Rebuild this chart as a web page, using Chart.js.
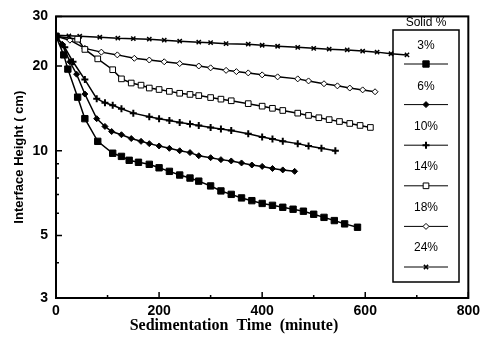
<!DOCTYPE html>
<html>
<head>
<meta charset="utf-8">
<script src="https://cdn.jsdelivr.net/npm/chart.js@4/dist/chart.umd.min.js"></script>
<style>
  body { margin: 0; background: #fff; }
</style>
</head>
<body>
<canvas id="grafico" width="485" height="340"></canvas>
<script>
// Valores (tempo em minutos, altura da interface em cm)
const rotulos = ['3%', '6%', '10%', '14%', '18%', '24%'];

const tempo3 = [0, 15, 23, 42, 56, 81, 110, 127, 142, 160, 181, 200, 220, 240, 260, 277, 300, 320, 340, 360, 380, 400, 420, 440, 460, 480, 500, 520, 540, 560, 585];
const altura3 = [25.5, 21.9, 19.5, 15.5, 13.0, 10.8, 9.8, 9.55, 9.25, 9.1, 8.95, 8.7, 8.45, 8.2, 8.0, 7.8, 7.5, 7.2, 7.0, 6.8, 6.65, 6.5, 6.4, 6.3, 6.2, 6.1, 5.95, 5.8, 5.65, 5.5, 5.35];

const tempo6 = [0, 12, 27, 40, 56, 79, 95, 108, 127, 146, 165, 181, 200, 220, 240, 260, 277, 300, 320, 340, 360, 380, 400, 420, 440, 463];
const altura6 = [25.5, 23.9, 20.7, 18.7, 15.9, 13.0, 12.2, 11.7, 11.4, 11.05, 10.8, 10.6, 10.4, 10.2, 10.0, 9.85, 9.6, 9.45, 9.3, 9.2, 9.05, 8.9, 8.8, 8.65, 8.55, 8.45];

const tempo10 = [0, 17, 33, 56, 79, 95, 110, 127, 150, 181, 200, 220, 240, 260, 277, 300, 320, 340, 373, 400, 420, 440, 469, 490, 515, 542];
const altura10 = [25.5, 23.3, 20.7, 17.9, 15.3, 14.8, 14.5, 14.1, 13.6, 13.2, 13.0, 12.8, 12.6, 12.45, 12.3, 12.1, 11.95, 11.8, 11.5, 11.2, 11.0, 10.8, 10.6, 10.4, 10.2, 10.0];

const tempo14 = [0, 42, 56, 81, 110, 127, 146, 165, 181, 200, 220, 240, 260, 277, 300, 320, 340, 373, 400, 420, 440, 469, 490, 510, 530, 550, 570, 590, 610];
const altura14 = [25.5, 24.9, 22.9, 21.2, 19.4, 18.0, 17.4, 17.1, 16.7, 16.5, 16.25, 16.0, 15.85, 15.7, 15.45, 15.25, 15.05, 14.7, 14.4, 14.15, 13.9, 13.6, 13.35, 13.1, 12.9, 12.7, 12.5, 12.3, 12.1];

const tempo18 = [0, 27, 56, 88, 119, 152, 181, 210, 240, 277, 300, 330, 350, 373, 400, 430, 469, 490, 520, 546, 570, 595, 619];
const altura18 = [25.5, 24.7, 23.1, 22.4, 21.9, 21.3, 21.0, 20.7, 20.4, 20.0, 19.7, 19.3, 19.1, 18.9, 18.6, 18.3, 18.0, 17.7, 17.3, 17.0, 16.7, 16.45, 16.2];

const tempo24 = [0, 25, 46, 85, 120, 150, 181, 210, 240, 277, 300, 330, 373, 400, 430, 469, 500, 530, 565, 595, 623, 650, 681];
const altura24 = [25.7, 25.6, 25.5, 25.3, 25.1, 25.0, 24.9, 24.7, 24.5, 24.3, 24.2, 24.0, 23.9, 23.7, 23.5, 23.3, 23.1, 22.95, 22.8, 22.6, 22.4, 22.1, 21.9];

const ticksY = [3, 5, 10, 20, 30];
const ticksYMenores = [4, 6, 7, 8, 9];
const ticksX = [0, 200, 400, 600, 800];
const ticksXMenores = [100, 300, 500, 700];

const tempos = [tempo3, tempo6, tempo10, tempo14, tempo18, tempo24];
const alturas = [altura3, altura6, altura10, altura14, altura18, altura24];

// Estilo dos marcadores de cada série
const estilos = [
  { pointStyle: 'rect', pointRadius: 4.5, pointBackgroundColor: '#000' },
  { pointStyle: 'rectRot', pointRadius: 3, pointBackgroundColor: '#000' },
  { pointStyle: 'cross', pointRadius: 3.5, pointBackgroundColor: '#000', pointBorderWidth: 2 },
  { pointStyle: 'rect', pointRadius: 4, pointBackgroundColor: '#fff' },
  { pointStyle: 'rectRot', pointRadius: 3, pointBackgroundColor: '#fff' },
  { pointStyle: 'crossRot', pointRadius: 3, pointBackgroundColor: '#000', pointBorderWidth: 1.5 },
];

const datasets = rotulos.map((rotulo, i) => Object.assign({
  label: rotulo,
  data: tempos[i].map((t, j) => ({ x: t, y: alturas[i][j] })),
  borderColor: '#000',
  borderWidth: 1.5,
  pointBorderColor: '#000',
  pointBorderWidth: 1,
}, estilos[i]));

// Moldura, ticks para dentro, legenda em caixa e título do eixo x
const decoracao = {
  id: 'decoracao',
  afterDatasetsDraw(chart) {
    const { ctx, chartArea: a, scales: { x, y } } = chart;
    ctx.save();
    ctx.strokeStyle = '#000';
    ctx.lineWidth = 2;
    ctx.strokeRect(a.left, a.top, a.right - a.left, a.bottom - a.top);

    ctx.lineWidth = 1.5;
    ctx.beginPath();
    ticksY.forEach(v => { const p = y.getPixelForValue(v); ctx.moveTo(a.left, p); ctx.lineTo(a.left + 6, p); });
    ticksYMenores.forEach(v => { const p = y.getPixelForValue(v); ctx.moveTo(a.left, p); ctx.lineTo(a.left + 3, p); });
    ticksX.forEach(v => { const p = x.getPixelForValue(v); ctx.moveTo(p, a.bottom); ctx.lineTo(p, a.bottom - 6); });
    ticksXMenores.forEach(v => { const p = x.getPixelForValue(v); ctx.moveTo(p, a.bottom); ctx.lineTo(p, a.bottom - 3); });
    ctx.stroke();

    // legenda
    const lx = 393, ly = 30, lw = 66, lh = 252, cx = lx + lw / 2;
    ctx.lineWidth = 1.5;
    ctx.strokeRect(lx, ly, lw, lh);
    ctx.fillStyle = '#000';
    ctx.textAlign = 'center';
    ctx.textBaseline = 'bottom';
    ctx.font = '12px "Liberation Sans", Arial';
    ctx.fillText('Solid %', cx, ly - 1);
    ctx.textBaseline = 'middle';
    chart.data.datasets.forEach((ds, i) => {
      const ty = 46 + 40.3 * i;
      const sy = 64 + 40.6 * i;
      ctx.font = '12px "Liberation Sans", Arial';
      ctx.fillStyle = '#000';
      ctx.fillText(ds.label, cx, ty);
      ctx.lineWidth = 1;
      ctx.beginPath();
      ctx.moveTo(cx - 22, sy);
      ctx.lineTo(cx + 22, sy);
      ctx.stroke();
      ctx.fillStyle = ds.pointBackgroundColor;
      ctx.lineWidth = ds.pointBorderWidth;
      Chart.helpers.drawPoint(ctx, {
        pointStyle: ds.pointStyle,
        radius: ds.pointRadius,
        borderWidth: ds.pointBorderWidth,
        rotation: 0,
      }, cx, sy);
    });

    ctx.fillStyle = '#000';
    ctx.font = 'bold 16px "Liberation Serif", "Times New Roman", serif';
    ctx.textBaseline = 'middle';
    ctx.fillText('Sedimentation  Time  (minute)', 234, 326);
    ctx.restore();
  }
};

new Chart(document.getElementById('grafico'), {
  type: 'line',
  data: { datasets },
  options: {
    responsive: false,
    animation: false,
    layout: { padding: { left: 0, right: 13, top: 14, bottom: 0 } },
    plugins: { legend: { display: false }, tooltip: { enabled: false } },
    scales: {
      x: {
        type: 'linear',
        min: 0,
        max: 800,
        grid: { display: false, drawTicks: false },
        border: { display: false },
        afterBuildTicks: s => { s.ticks = ticksX.map(v => ({ value: v })); },
        afterFit: s => { s.height = 42; },
        ticks: {
          padding: 5,
          color: '#000',
          font: { family: '"Liberation Sans", Arial', size: 14, weight: 'bold' },
        },
      },
      y: {
        type: 'logarithmic',
        min: 3,
        max: 30,
        grid: { display: false, drawTicks: false },
        border: { display: false },
        afterBuildTicks: s => { s.ticks = ticksY.map(v => ({ value: v })); },
        afterFit: s => { s.width = 56; },
        ticks: {
          padding: 8,
          color: '#000',
          callback: v => String(v),
          font: { family: '"Liberation Sans", Arial', size: 14, weight: 'bold' },
        },
        title: {
          display: true,
          text: 'Interface Height ( cm)',
          color: '#000',
          padding: { top: 12, bottom: 0 },
          font: { family: '"Liberation Sans", Arial', size: 13, weight: 'bold' },
        },
      },
    },
  },
  plugins: [decoracao],
});
</script>
</body>
</html>
